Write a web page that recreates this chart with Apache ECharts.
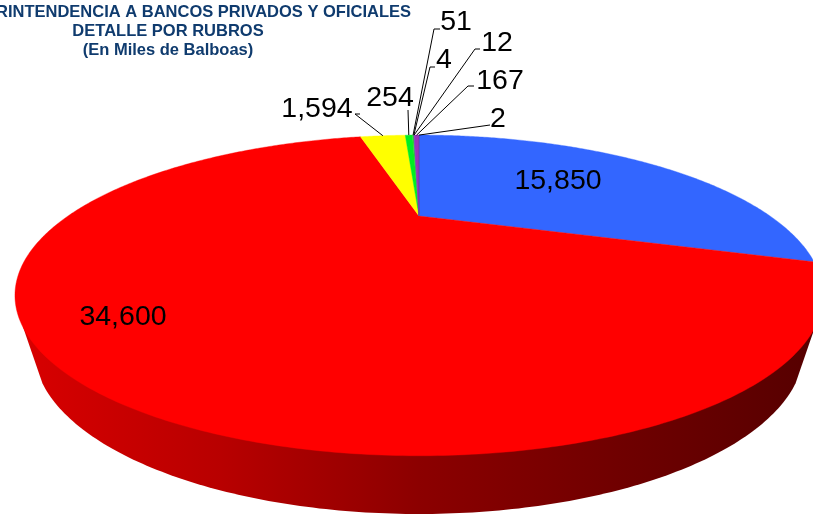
<!DOCTYPE html>
<html>
<head>
<meta charset="utf-8">
<style>
  html, body { margin: 0; padding: 0; background: #fff; }
  #main { width: 813px; height: 515px; }
</style>
<script src="https://cdn.jsdelivr.net/npm/echarts@6/dist/echarts.min.js"></script>
</head>
<body>
<div id="main"></div>
<script>
// datos, en sentido horario desde arriba
var values = [15850, 34600, 1594, 254, 51, 4, 12, 167, 2];
var titleLines = ['RINTENDENCIA A BANCOS PRIVADOS Y OFICIALES', 'DETALLE POR RUBROS', '(En Miles de Balboas)'];
var sliceColors = ['#3366ff', '#ff0000', '#ffff00', '#00ee22', '#33cc33', '#339966', '#6666cc', '#9933bb', '#663399'];

// centro de cada etiqueta y codos de la linea guia (null = sin guia)
var labelCenters = [[558, 181], [123, 317], [317, 109], [390, 98], [456, 22], [444, 60], [497, 43], [500, 81], [498, 119]];
var leaderElbows = [
    null, null,
    [[355, 114], [360, 114]],
    [[408, 110]],
    [[434, 29], [440, 29]],
    [[430, 67], [435, 67]],
    [[475, 49], [480, 49]],
    [[468, 86], [474, 86]],
    [[490, 125]]
];

var total = values.reduce(function (a, b) { return a + b; }, 0);
var cumulative = [];
values.reduce(function (sum, v, i) { cumulative[i] = sum; return sum + v; }, 0);

// geometria de la tarta en perspectiva
var cx = 419, apexY = 216, persp = 0.4953, radX = 351, radY = 121;
var baseEllipse = { y: 349, a: 385, b: 165 };
var wallTopLeft = [23, 327], wallTopRight = [815, 327];

function project(theta) {
    var d = 1 + persp * Math.cos(theta);
    return [cx + radX * Math.sin(theta) / d, apexY - radY * Math.cos(theta) / d];
}

function angleOf(amount) {
    return amount / total * Math.PI * 2;
}

function renderSlice(params, api) {
    var i = params.dataIndex;
    var start = angleOf(cumulative[i]);
    var end = start + angleOf(api.value(0));
    var points = [[cx, apexY]];
    var steps = Math.max(2, Math.ceil((end - start) / 0.01));
    for (var s = 0; s <= steps; s++) {
        points.push(project(start + (end - start) * s / steps));
    }
    var children = [{
        type: 'polygon',
        shape: { points: points },
        style: { fill: sliceColors[i], stroke: sliceColors[i], lineWidth: 0.4 }
    }];
    if (leaderElbows[i]) {
        children.push({
            type: 'polyline',
            z2: 5,
            shape: { points: [project((start + end) / 2)].concat(leaderElbows[i]) },
            style: { fill: null, stroke: '#000', lineWidth: 1 }
        });
    }
    children.push({
        type: 'text',
        z2: 10,
        style: {
            x: labelCenters[i][0],
            y: labelCenters[i][1],
            text: api.value(0).toLocaleString('en-US'),
            fill: '#000',
            font: '28.5px "Liberation Sans", Arial, sans-serif',
            align: 'center',
            verticalAlign: 'middle'
        }
    });
    return { type: 'group', children: children };
}

// pared lateral: desde el borde superior hasta la elipse de la base
function renderWall() {
    var points = [wallTopLeft];
    for (var p = 168; p >= 12; p -= 1) {
        var t = p * Math.PI / 180;
        points.push([cx + baseEllipse.a * Math.cos(t), baseEllipse.y + baseEllipse.b * Math.sin(t)]);
    }
    points.push(wallTopRight);
    return {
        type: 'polygon',
        shape: { points: points },
        style: {
            fill: new echarts.graphic.LinearGradient(0, 0, 1, 0, [
                { offset: 0, color: '#d80000' },
                { offset: 0.25, color: '#b80000' },
                { offset: 0.5, color: '#8c0000' },
                { offset: 0.75, color: '#700000' },
                { offset: 1, color: '#560000' }
            ])
        }
    };
}

var myChart = echarts.init(document.getElementById('main'));
var titleTops = [4, 23, 42];

var option = {
    animation: false,
    backgroundColor: '#fff',
    title: titleLines.map(function (t, i) {
        return {
            text: t,
            left: i == 0 ? -4 : 168,
            top: titleTops[i],
            padding: 0,
            textAlign: i == 0 ? 'left' : 'center',
            textStyle: {
                color: '#0f3b6e',
                fontFamily: '"Liberation Sans", Arial, sans-serif',
                fontSize: 16.5,
                fontWeight: 'bold'
            }
        };
    }),
    series: [
        {
            type: 'custom',
            coordinateSystem: 'none',
            silent: true,
            z: 1,
            data: [[values[1]]],
            renderItem: renderWall
        },
        {
            type: 'custom',
            coordinateSystem: 'none',
            silent: true,
            z: 2,
            data: values.map(function (v) { return [v]; }),
            renderItem: renderSlice
        }
    ]
};

myChart.setOption(option);
window.addEventListener('resize', function () {
    myChart.resize();
});
</script>
</body>
</html>
